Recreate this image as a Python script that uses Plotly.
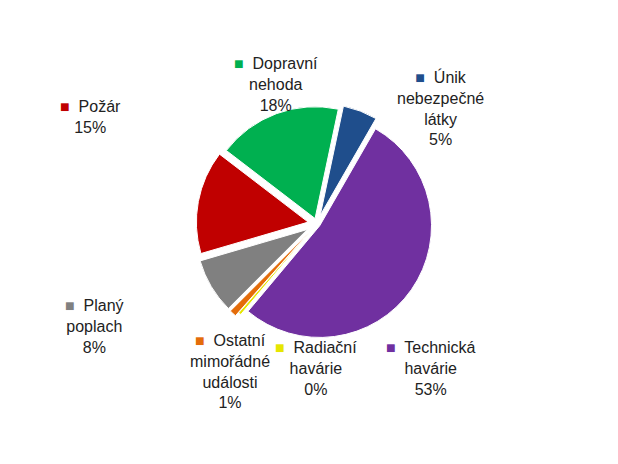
import plotly.graph_objects as go

labels = ['Únik nebezpečné látky', 'Technická havárie', 'Radiační havárie',
          'Ostatní mimořádné události', 'Planý poplach', 'Požár', 'Dopravní nehoda']
values = [5, 53, 0.4, 1, 8, 15, 18]
colors = ['#1F4E8C', '#7030A0', '#E6E600', '#E46C0A', '#808080', '#C00000', '#00B050']
pulls = [0.08, 0.03, 0.06, 0.1, 0.1, 0.08, 0.05]

fig = go.Figure(go.Pie(
    labels=labels, values=values, sort=False, direction='clockwise', rotation=12,
    marker=dict(colors=colors, line=dict(color='white', width=1)),
    pull=pulls, textinfo='none', hoverinfo='label+percent', showlegend=False,
    domain=dict(x=[0.12, 0.88], y=[0.27, 0.8])
))

# label text: (pixel x, pixel y, colour, text)
notes = [
    (268, 45, '#00B050', 'Dopravní<br>nehoda<br>18%'),
    (478, 58, '#1F4E8C', 'Únik<br>nebezpečné<br>látky<br>5%'),
    (50, 88, '#C00000', 'Požár<br>15%'),
    (55, 350, '#808080', 'Planý<br>poplach<br>8%'),
    (180, 405, '#E46C0A', 'Ostatní<br>mimořádné<br>události<br>1%'),
    (308, 392, '#E6E600', 'Radiační<br>havárie<br>0%'),
    (470, 392, '#7030A0', 'Technická<br>havárie<br>53%'),
]
for px, py, c, t in notes:
    fig.add_annotation(
        x=px / 618, y=1 - py / 464, xref='paper', yref='paper', showarrow=False,
        text=f"<span style='color:{c}'>■</span>  " + t, align='center',
        font=dict(family='Liberation Sans', size=16, color='#222'))

fig.update_layout(width=618, height=464, margin=dict(l=0, r=0, t=0, b=0),
                  paper_bgcolor='white')
fig.write_html("out.html")
